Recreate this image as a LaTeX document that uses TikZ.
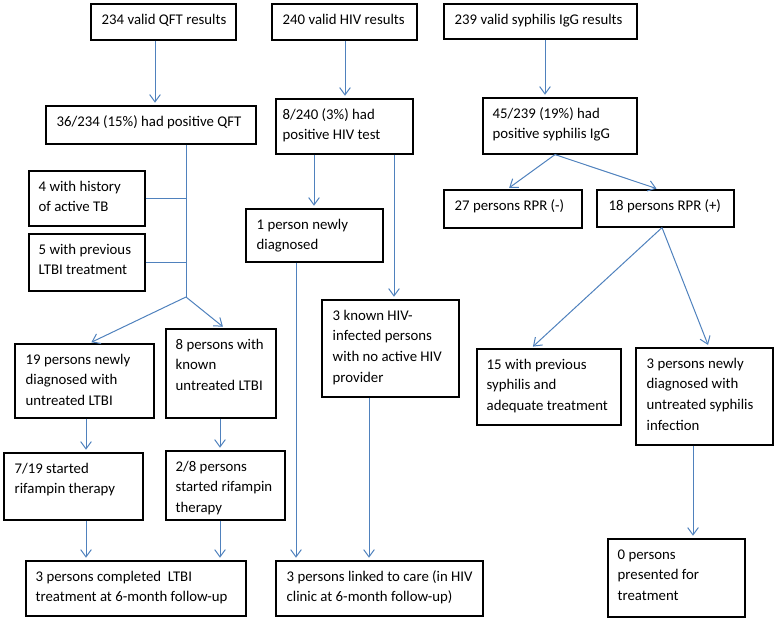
\documentclass[tikz,border=0pt]{standalone}
\usepackage{fontspec}
\setmainfont{Carlito}
\usepackage{tikz}
\usetikzlibrary{calc,fit,arrows.meta}
\definecolor{linkblue}{RGB}{79,129,189}
% box drawn between two corners, text set from its top left corner
\newcommand{\flowbox}[5][11]{%
	\node[box, fit={#3 #4}] (#2) {};
	\node[boxtext] (#2-text) at ($(#2.north west)+(#1,6)$) {\strut #5};}

\begin{document}
\begin{tikzpicture}[x=0.75pt, y=-0.75pt,
		box/.style={draw=black, line width=0.9pt, inner sep=0pt},
		boxtext/.style={anchor=north west, align=left, inner sep=0pt, font=\fontsize{11.1}{15.5}\selectfont},
		arr/.style={draw=linkblue, line width=0.75pt, -{Straight Barb[length=5.5pt,width=8pt]}, shorten >=2pt},
		link/.style={draw=linkblue, line width=0.75pt}]
		%%%%% START %%%%%
		\useasboundingbox (0,0) rectangle (777,621);
		
		% QFT column
		\flowbox{qftA}{(91,4)}{(236,40)}{234 valid QFT results}
		\flowbox{qftB}{(46,106)}{(256,144)}{36/234 (15\%) had positive QFT}
		\flowbox[10]{histTB}{(29,171)}{(145,226)}{4 with history\\of active TB}
		\flowbox[10]{prevTx}{(29,234)}{(145,291)}{5 with previous\\LTBI treatment}
		\flowbox{newLTBI}{(15,344)}{(154,418)}{19 persons newly\\diagnosed with\\untreated LTBI}
		\flowbox[10]{knownLTBI}{(166,329)}{(276,418)}{8 persons with\\known\\untreated LTBI}
		\flowbox{startA}{(4,453)}{(143,520)}{7/19 started\\rifampin therapy}
		\flowbox[10]{startB}{(166,451)}{(285,520)}{2/8 persons\\started rifampin\\therapy}
		\flowbox[10]{doneLTBI}{(26,561)}{(246,616)}{3 persons completed\ \ LTBI\\treatment at 6-month follow-up}
		
		\coordinate (qftFork) at (186,297);
		\draw[arr] (qftA.south -| 155,0) -- (qftB.north -| 155,0);
		\draw[link] (qftB.south -| qftFork) -- (qftFork);
		\draw[link] (histTB.east) -- (histTB.east -| qftFork);
		\draw[link] (prevTx.east) -- (prevTx.east -| qftFork);
		\draw[arr] (qftFork) -- (newLTBI.north -| 89,0);
		\draw[arr] (qftFork) -- (knownLTBI.north -| 225,0);
		\draw[arr] (newLTBI.south -| 86,0) -- (startA.north -| 86,0);
		\draw[arr] (knownLTBI.south -| 220,0) -- (startB.north -| 220,0);
		\draw[arr] (startA.south -| 86,0) -- (doneLTBI.north -| 86,0);
		\draw[arr] (startB.south -| 220,0) -- (doneLTBI.north -| 220,0);
		
		% HIV column
		\flowbox{hivA}{(272,4)}{(417,40)}{240 valid HIV results}
		\flowbox[7]{hivB}{(276,99)}{(413,154)}{8/240 (3\%) had\\positive HIV test}
		\flowbox{newHIV}{(246,209)}{(383,262)}{1 person newly\\diagnosed}
		\flowbox{knownHIV}{(322,300)}{(459,397)}{3 known HIV-\\infected persons\\with no active HIV\\provider}
		\flowbox{linked}{(276,561)}{(483,616)}{3 persons linked to care (in HIV\\clinic at 6-month follow-up)}
		
		\draw[arr] (hivA.south -| 345,0) -- (hivB.north -| 345,0);
		\draw[arr] (hivB.south -| 314,0) -- (newHIV.north -| 314,0);
		\draw[arr] (hivB.south -| 394,0) -- (knownHIV.north -| 394,0);
		\draw[arr] (newHIV.south -| 296,0) -- (linked.north -| 296,0);
		\draw[arr] (knownHIV.south -| 369,0) -- (linked.north -| 369,0);
		
		% syphilis column
		\flowbox{syphA}{(444,4)}{(637,39)}{239 valid syphilis IgG results}
		\flowbox[10]{syphB}{(483,98)}{(637,154)}{45/239 (19\%) had\\positive syphilis IgG}
		\flowbox{rprNeg}{(444,190)}{(582,228)}{27 persons RPR (-)}
		\flowbox[12]{rprPos}{(597,190)}{(734,227)}{18 persons RPR (+)}
		\flowbox[10]{prevSyph}{(477,349)}{(621,425)}{15 with previous\\syphilis and\\adequate treatment}
		\flowbox{newSyph}{(636,348)}{(773,445)}{3 persons newly\\diagnosed with\\untreated syphilis\\infection}
		\flowbox[10]{noneTx}{(608,539)}{(745,617)}{0 persons\\presented for\\treatment}
		
		\draw[arr] (syphA.south -| 545,0) -- (syphB.north -| 545,0);
		\draw[arr] (syphB.south -| 555,0) -- (rprNeg.north -| 507,0);
		\draw[arr] (syphB.south -| 555,0) -- (rprPos.north -| 659,0);
		\draw[arr] (rprPos.south -| 662,0) -- (prevSyph.north -| 531,0);
		\draw[arr] (rprPos.south -| 662,0) -- (newSyph.north -| 709,0);
		\draw[arr] (newSyph.south -| 693,0) -- (noneTx.north -| 693,0);
		%%%%% END %%%%%
\end{tikzpicture}
\end{document}
